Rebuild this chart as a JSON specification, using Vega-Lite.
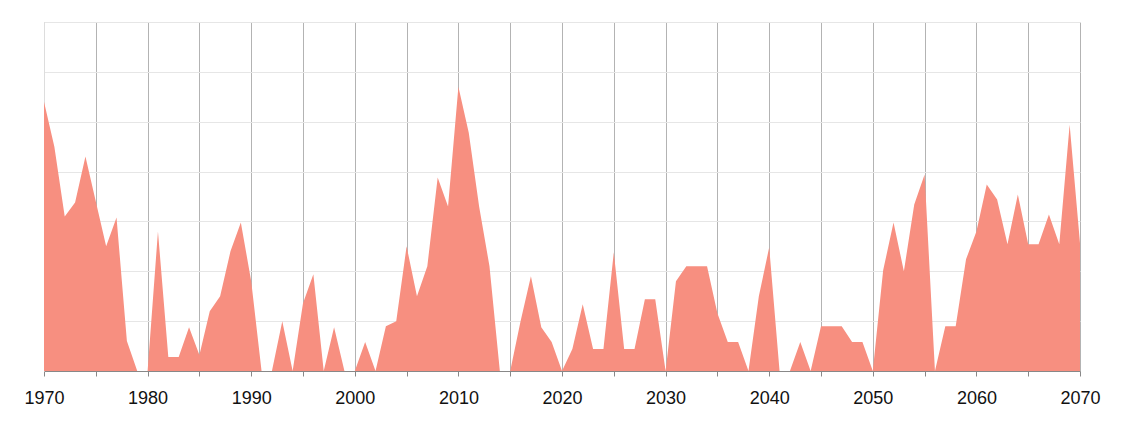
{
  "$schema": "https://vega.github.io/schema/vega-lite/v6.json",
  "width": 1036,
  "height": 349,
  "autosize": {"type": "none"},
  "padding": {"left": 44, "top": 22, "right": 44, "bottom": 52},
  "background": "white",
  "config": {"view": {"stroke": null}},
  "data": {"values": [
    {"year": 1970, "v": 27.0}, {"year": 1971, "v": 22.5}, {"year": 1972, "v": 15.5}, {"year": 1973, "v": 16.9},
    {"year": 1974, "v": 21.5}, {"year": 1975, "v": 17.0}, {"year": 1976, "v": 12.5}, {"year": 1977, "v": 15.4},
    {"year": 1978, "v": 3.0}, {"year": 1979, "v": 0}, {"year": 1980, "v": 0}, {"year": 1981, "v": 14.0},
    {"year": 1982, "v": 1.4}, {"year": 1983, "v": 1.4}, {"year": 1984, "v": 4.4}, {"year": 1985, "v": 1.6},
    {"year": 1986, "v": 6.0}, {"year": 1987, "v": 7.5}, {"year": 1988, "v": 12.0}, {"year": 1989, "v": 14.9},
    {"year": 1990, "v": 9.0}, {"year": 1991, "v": 0}, {"year": 1992, "v": 0}, {"year": 1993, "v": 5.0},
    {"year": 1994, "v": 0}, {"year": 1995, "v": 6.8}, {"year": 1996, "v": 9.7}, {"year": 1997, "v": 0},
    {"year": 1998, "v": 4.4}, {"year": 1999, "v": 0}, {"year": 2000, "v": 0}, {"year": 2001, "v": 2.9},
    {"year": 2002, "v": 0}, {"year": 2003, "v": 4.5}, {"year": 2004, "v": 5.0}, {"year": 2005, "v": 12.5},
    {"year": 2006, "v": 7.5}, {"year": 2007, "v": 10.5}, {"year": 2008, "v": 19.4}, {"year": 2009, "v": 16.5},
    {"year": 2010, "v": 28.5}, {"year": 2011, "v": 23.9}, {"year": 2012, "v": 16.5}, {"year": 2013, "v": 10.5},
    {"year": 2014, "v": 0}, {"year": 2015, "v": 0}, {"year": 2016, "v": 5.0}, {"year": 2017, "v": 9.5},
    {"year": 2018, "v": 4.4}, {"year": 2019, "v": 2.9}, {"year": 2020, "v": 0}, {"year": 2021, "v": 2.2},
    {"year": 2022, "v": 6.7}, {"year": 2023, "v": 2.2}, {"year": 2024, "v": 2.2}, {"year": 2025, "v": 11.9},
    {"year": 2026, "v": 2.2}, {"year": 2027, "v": 2.2}, {"year": 2028, "v": 7.2}, {"year": 2029, "v": 7.2},
    {"year": 2030, "v": 0}, {"year": 2031, "v": 9.0}, {"year": 2032, "v": 10.5}, {"year": 2033, "v": 10.5},
    {"year": 2034, "v": 10.5}, {"year": 2035, "v": 5.8}, {"year": 2036, "v": 2.9}, {"year": 2037, "v": 2.9},
    {"year": 2038, "v": 0}, {"year": 2039, "v": 7.5}, {"year": 2040, "v": 12.4}, {"year": 2041, "v": 0},
    {"year": 2042, "v": 0}, {"year": 2043, "v": 2.9}, {"year": 2044, "v": 0}, {"year": 2045, "v": 4.5},
    {"year": 2046, "v": 4.5}, {"year": 2047, "v": 4.5}, {"year": 2048, "v": 2.9}, {"year": 2049, "v": 2.9},
    {"year": 2050, "v": 0}, {"year": 2051, "v": 10.1}, {"year": 2052, "v": 14.9}, {"year": 2053, "v": 10.0},
    {"year": 2054, "v": 16.7}, {"year": 2055, "v": 19.7}, {"year": 2056, "v": 0}, {"year": 2057, "v": 4.5},
    {"year": 2058, "v": 4.5}, {"year": 2059, "v": 11.2}, {"year": 2060, "v": 14.0}, {"year": 2061, "v": 18.7},
    {"year": 2062, "v": 17.2}, {"year": 2063, "v": 12.7}, {"year": 2064, "v": 17.7}, {"year": 2065, "v": 12.7},
    {"year": 2066, "v": 12.7}, {"year": 2067, "v": 15.7}, {"year": 2068, "v": 12.7}, {"year": 2069, "v": 24.7},
    {"year": 2070, "v": 12.8}
  ]},
  "mark": {"type": "area", "color": "#F78F80", "opacity": 1},
  "encoding": {
    "x": {
      "field": "year", "type": "quantitative",
      "scale": {"domain": [1970, 2070], "nice": false, "zero": false},
      "axis": {
        "title": null,
        "values": [1970,1975,1980,1985,1990,1995,2000,2005,2010,2015,2020,2025,2030,2035,2040,2045,2050,2055,2060,2065,2070],
        "labelExpr": "datum.value % 10 == 0 ? datum.value : ''",
        "labelFont": "Liberation Sans",
        "labelFontSize": 18,
        "labelColor": "#111111",
        "labelPadding": 13,
        "labelFlush": false,
        "labelOverlap": false,
        "tickColor": "#888888",
        "tickSize": 5,
        "domainColor": "#888888",
        "grid": true,
        "gridColor": "#b3b3b3",
        "gridWidth": 1
      }
    },
    "y": {
      "field": "v", "type": "quantitative",
      "scale": {"domain": [0, 35], "nice": false},
      "axis": {
        "title": null,
        "values": [0,5,10,15,20,25,30,35],
        "labels": false,
        "ticks": false,
        "domainColor": "#dddddd",
        "grid": true,
        "gridColor": "#e6e6e6",
        "gridWidth": 1
      }
    }
  }
}
